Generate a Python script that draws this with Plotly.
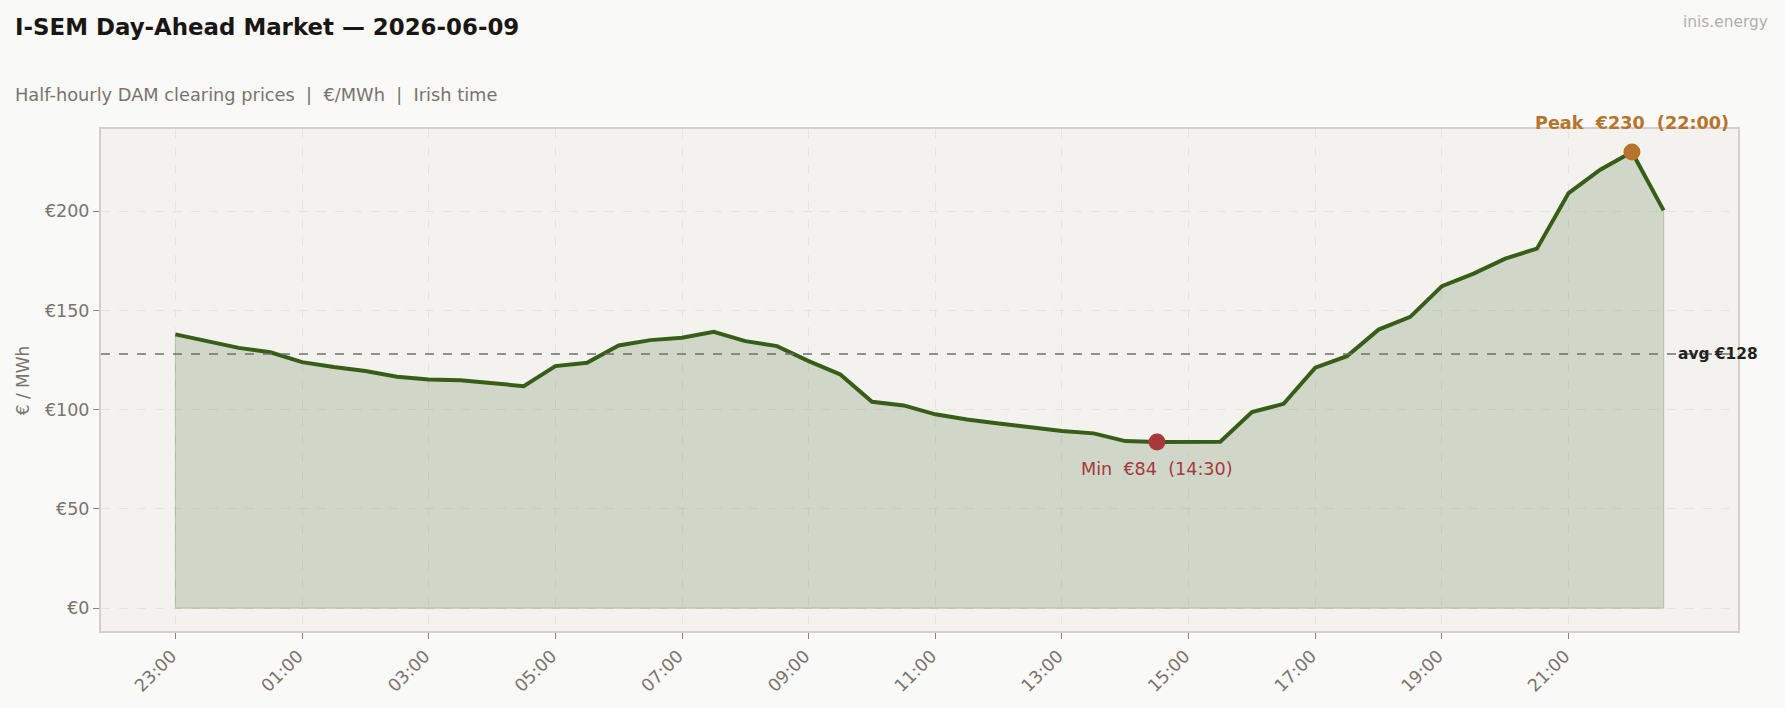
import pandas as pd
import plotly.graph_objects as go

# ---- data ----
start_time = "2026-06-08 23:00"
times = pd.date_range(start_time, periods=48, freq="30min")
prices = [138.0, 134.5, 131.2, 129.0, 124.0, 121.5, 119.5, 116.6, 115.3, 114.9, 113.6, 111.9,
          122.0, 123.7, 132.4, 135.1, 136.3, 139.3, 134.6, 132.1, 124.5, 117.8, 104.0, 102.2,
          97.7, 95.1, 93.1, 91.3, 89.3, 88.1, 84.2, 83.7, 83.9, 83.9, 98.8, 103.0,
          121.2, 127.0, 140.4, 146.8, 162.3, 168.6, 176.2, 181.2, 209.2, 221.0, 229.9, 200.5]
y_ticks = [0, 50, 100, 150, 200]
y_tick_labels = ["€0", "€50", "€100", "€150", "€200"]
x_ticks = list(times[::4])
x_tick_labels = [t.strftime("%H:%M") for t in x_ticks]

title_text = "I-SEM Day-Ahead Market — 2026-06-09"
subtitle_text = "Half-hourly DAM clearing prices  |  €/MWh  |  Irish time"
brand_text = "inis.energy"

avg = sum(prices) / len(prices)
i_max = max(range(len(prices)), key=lambda i: prices[i])
i_min = min(range(len(prices)), key=lambda i: prices[i])

FONT = "DejaVu Sans"
GREEN = "#375e16"
PEAK_C = "#b8732c"
MIN_C = "#a8393b"
TXT_GRAY = "#7a736e"

fig = go.Figure()

# filled area polygon
poly_x = [times[0]] + list(times) + [times[-1], times[0]]
poly_y = [0] + prices + [0, 0]
fig.add_trace(go.Scatter(x=poly_x, y=poly_y, mode="lines", fill="toself",
                         fillcolor="rgba(60,100,30,0.19)",
                         line=dict(color="rgba(60,100,30,0.22)", width=1.2),
                         hoverinfo="skip", showlegend=False))

# average line
fig.add_hline(y=avg, line=dict(color="#707070", width=1.5, dash="dash"))

# price line
fig.add_trace(go.Scatter(x=times, y=prices, mode="lines",
                         line=dict(color=GREEN, width=4), showlegend=False))

# markers
fig.add_trace(go.Scatter(x=[times[i_max]], y=[prices[i_max]], mode="markers",
                         marker=dict(color=PEAK_C, size=17), showlegend=False))
fig.add_trace(go.Scatter(x=[times[i_min]], y=[prices[i_min]], mode="markers",
                         marker=dict(color=MIN_C, size=17), showlegend=False))

annotations = [
    dict(text=f"<b>{title_text}</b>", xref="paper", yref="paper", x=-0.0535, y=1.204,
         xanchor="left", yanchor="middle", showarrow=False,
         font=dict(family=FONT, size=22.9, color="#1a1613")),
    dict(text=subtitle_text, xref="paper", yref="paper", x=-0.0535, y=1.069,
         xanchor="left", yanchor="middle", showarrow=False,
         font=dict(family=FONT, size=17.8, color=TXT_GRAY)),
    dict(text=brand_text, xref="paper", yref="paper", x=1.0195, y=1.213,
         xanchor="right", yanchor="middle", showarrow=False,
         font=dict(family=FONT, size=15.4, color="#b3afab")),
    dict(text=f"<b>Peak  €{prices[i_max]:.0f}  ({times[i_max]:%H:%M})</b>",
         x=times[i_max], y=prices[i_max], yshift=29, showarrow=False,
         xanchor="center", yanchor="middle",
         font=dict(family=FONT, size=17.6, color=PEAK_C)),
    dict(text=f"Min  €{prices[i_min]:.0f}  ({times[i_min]:%H:%M})",
         x=times[i_min], y=prices[i_min], yshift=-27, showarrow=False,
         xanchor="center", yanchor="middle",
         font=dict(family=FONT, size=17.6, color=MIN_C)),
    dict(text=f"<b>avg €{avg:.0f}</b>", xref="paper", yref="y", x=0.962, y=avg,
         xanchor="left", yanchor="middle", showarrow=False,
         font=dict(family=FONT, size=15.4, color="#222222")),
    dict(text="€ / MWh", xref="paper", yref="paper", x=-0.0475, y=0.5, textangle=-90,
         xanchor="center", yanchor="middle", showarrow=False,
         font=dict(family=FONT, size=17, color=TXT_GRAY)),
]

fig.update_layout(
    width=1785, height=708,
    margin=dict(l=101, r=47, t=129, b=77, autoexpand=False),
    paper_bgcolor="#f9f9f7",
    plot_bgcolor="#f3f2ef",
    font=dict(family=FONT, color=TXT_GRAY),
    annotations=annotations,
    showlegend=False,
)

fig.update_xaxes(
    type="date", automargin=False,
    range=["2026-06-08 21:49:30", "2026-06-09 23:40:30"],
    tickvals=x_ticks, ticktext=x_tick_labels,
    tickangle=-45, ticks="outside", ticklen=6, tickwidth=1.3, tickcolor="#8a8580",
    ticklabelshift=-4,
    tickfont=dict(family=FONT, size=17.5, color=TXT_GRAY),
    showgrid=True, gridcolor="#e6e4e0", griddash="dash", gridwidth=1,
    showline=True, linecolor="#d3cfca", linewidth=2, mirror=True,
    zeroline=False,
)
fig.update_yaxes(
    automargin=False,
    range=[-11.5, 241.5],
    tickvals=y_ticks, ticktext=y_tick_labels,
    ticks="outside", ticklen=6, tickwidth=1.3, tickcolor="#8a8580",
    tickfont=dict(family=FONT, size=17.5, color=TXT_GRAY),
    showgrid=True, gridcolor="#e6e4e0", griddash="dash", gridwidth=1,
    showline=True, linecolor="#d3cfca", linewidth=2, mirror=True,
    zeroline=False,
)

fig.write_html("out.html")
